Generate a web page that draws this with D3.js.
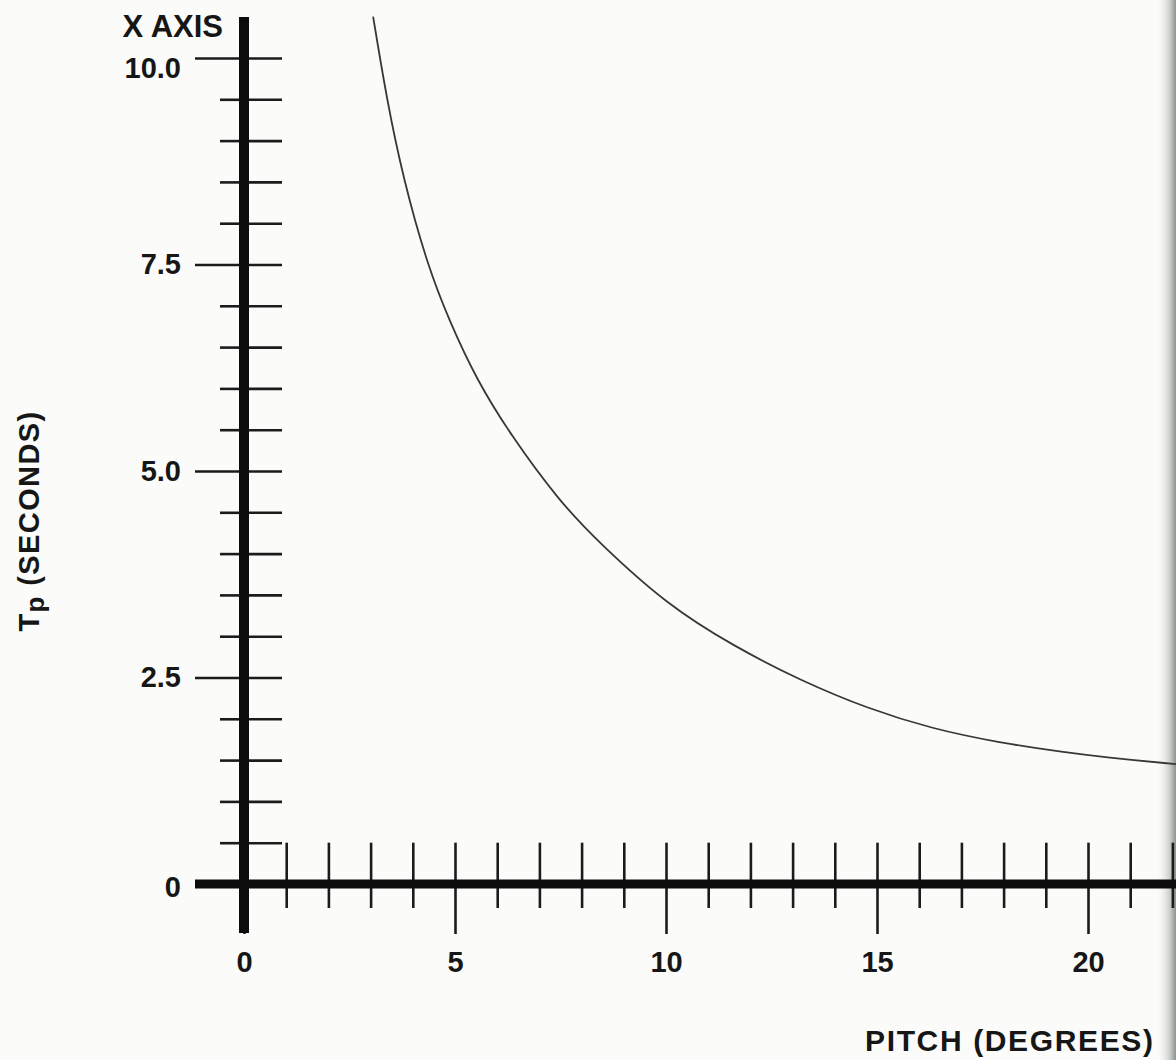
<!DOCTYPE html>
<html>
<head>
  <script src="https://d3js.org/d3.v7.min.js"></script>
  <style>
    body { margin: 0; background: #fbfcfa; }
    svg { display: block; }
    .lbl {
      font-family: "Liberation Sans", Arial, Helvetica, sans-serif;
      font-weight: bold;
      fill: #161616;
    }
    .tk text {
      font-family: "Liberation Sans", Arial, Helvetica, sans-serif;
      font-weight: bold;
      font-size: 29px;
      fill: #161616;
    }
    .tk line { stroke: #1b1b1b; stroke-width: 2.6; }
    .tk .domain { display: none; }
  </style>
</head>
<body>
  <svg id="chart"></svg>
  <script>
    var width = 1176;
    var height = 1060;

    // curve: pitch (degrees) -> Tp (seconds)
    var pitch = [3.06, 3.39, 3.77, 4.34, 4.88, 5.52, 6.3, 7.49, 8.44, 10.0, 11.6, 13.2, 14.8, 16.3, 17.9, 19.5, 20.3, 22.1];
    var tp    = [10.5, 9.48, 8.55, 7.5, 6.8, 6.1, 5.45, 4.62, 4.12, 3.39, 2.88, 2.46, 2.12, 1.88, 1.71, 1.59, 1.54, 1.45];

    // ticks
    var xMajor = [0, 5, 10, 15, 20];
    var xMinor = [1, 2, 3, 4, 6, 7, 8, 9, 11, 12, 13, 14, 16, 17, 18, 19, 21, 22];
    var yMajor = [0, 2.5, 5, 7.5, 10];
    var yMajorLabels = ["0", "2.5", "5.0", "7.5", "10.0"];
    var yMinor = [0.5, 1, 1.5, 2, 3, 3.5, 4, 4.5, 5.5, 6, 6.5, 7, 8, 8.5, 9, 9.5];

    var svg = d3.select("#chart")
      .attr("width", width)
      .attr("height", height);

    var x = d3.scaleLinear().domain([0, 20]).range([244, 1088]);
    var y = d3.scaleLinear().domain([0, 10]).range([884, 58]);

    /* right page edge shading */
    var grad = svg.append("defs").append("linearGradient")
      .attr("id", "edge").attr("x1", "0").attr("x2", "1").attr("y1", "0").attr("y2", "0");
    grad.append("stop").attr("offset", "0").attr("stop-color", "#fbfcfa").attr("stop-opacity", 0);
    grad.append("stop").attr("offset", "0.7").attr("stop-color", "#c9ccc8");
    grad.append("stop").attr("offset", "1").attr("stop-color", "#8e928f");
    svg.append("rect")
      .attr("x", 1156).attr("y", 0).attr("width", 20).attr("height", height)
      .attr("fill", "url(#edge)");

    /* Y AXIS TICKS */
    var tickUp = y(0) - y(0.5);

    svg.append("g").attr("class", "tk")
      .attr("transform", "translate(244,0)")
      .call(d3.axisLeft(y).tickValues(yMinor).tickSize(24).tickFormat(""));

    svg.append("g").attr("class", "tk")
      .attr("transform", "translate(244,0)")
      .call(d3.axisRight(y).tickValues(yMinor.concat(yMajor.slice(1))).tickSize(38).tickFormat(""));

    var yMaj = svg.append("g").attr("class", "tk")
      .attr("transform", "translate(244,0)")
      .call(d3.axisLeft(y).tickValues(yMajor).tickSize(49).tickPadding(14)
        .tickFormat(function(d, i) { return yMajorLabels[i]; }));
    yMaj.selectAll(".tick").filter(function(d) { return d === 10; })
      .select("text").attr("y", 10);
    yMaj.selectAll(".tick").filter(function(d) { return d === 0; })
      .select("text").attr("y", 3);

    /* X AXIS TICKS */
    svg.append("g").attr("class", "tk")
      .attr("transform", "translate(0," + y(0) + ")")
      .call(d3.axisBottom(x).tickValues(xMinor).tickSize(24).tickFormat(""));

    svg.append("g").attr("class", "tk")
      .attr("transform", "translate(0," + y(0) + ")")
      .call(d3.axisTop(x).tickValues(xMinor.concat(xMajor.slice(1))).tickSize(tickUp).tickFormat(""));

    svg.append("g").attr("class", "tk")
      .attr("transform", "translate(0," + y(0) + ")")
      .call(d3.axisBottom(x).tickValues(xMajor).tickSize(50).tickPadding(17).tickFormat(d3.format("d")));

    /* THICK AXIS LINES */
    svg.append("line")
      .attr("x1", x(0)).attr("x2", x(0))
      .attr("y1", 17).attr("y2", y(0) + 49)
      .attr("stroke", "#0c0c0c").attr("stroke-width", 10);

    svg.append("line")
      .attr("x1", 195).attr("x2", width)
      .attr("y1", y(0)).attr("y2", y(0))
      .attr("stroke", "#0c0c0c").attr("stroke-width", 9);

    /* CURVE */
    var pts = pitch.map(function(p, i) { return [p, tp[i]]; });
    svg.append("path")
      .datum(pts)
      .attr("fill", "none")
      .attr("stroke", "#383838")
      .attr("stroke-width", 1.8)
      .attr("d", d3.line()
        .x(function(d) { return x(d[0]); })
        .y(function(d) { return y(d[1]); })
        .curve(d3.curveBasis));

    /* LABELS */
    svg.append("text")
      .attr("class", "lbl")
      .attr("x", 223).attr("y", 37)
      .attr("text-anchor", "end")
      .style("font-size", "31px")
      .text("X AXIS");

    svg.append("text")
      .attr("class", "lbl")
      .attr("x", 865).attr("y", 1051)
      .attr("textLength", 288)
      .attr("lengthAdjust", "spacing")
      .style("font-size", "30px")
      .text("PITCH (DEGREES)");

    var yl = svg.append("text")
      .attr("class", "lbl")
      .attr("transform", "translate(39,521) rotate(-90)")
      .attr("text-anchor", "middle")
      .style("font-size", "29px")
      .style("letter-spacing", "1.4px");
    yl.append("tspan").text("T");
    yl.append("tspan").attr("dy", 5).style("font-size", "26px").text("p");
    yl.append("tspan").attr("dy", -5).text(" (SECONDS)");
  </script>
</body>
</html>
